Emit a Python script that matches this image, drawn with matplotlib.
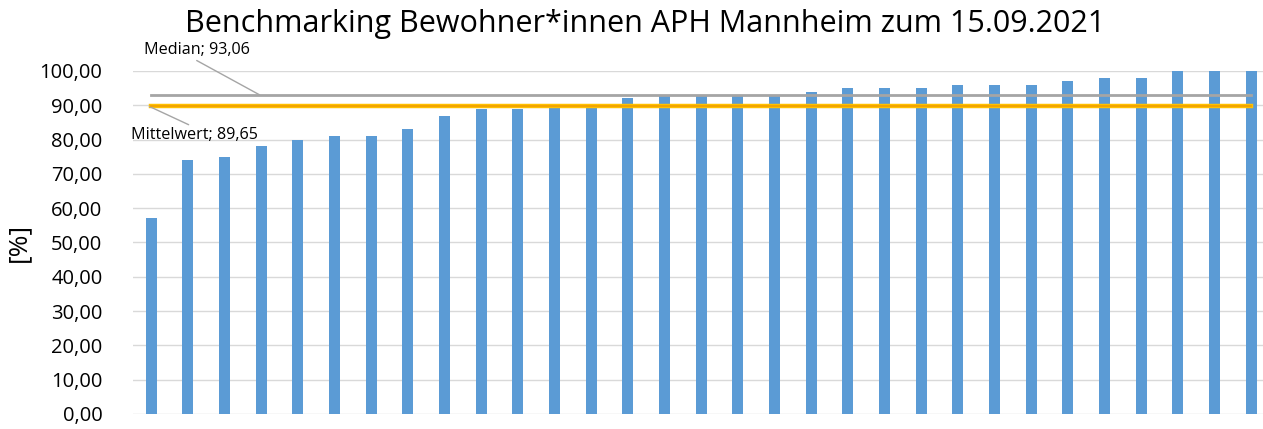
import numpy as np
import matplotlib.pyplot as plt

# values (sorted ascending)
werte = [57, 74, 75, 78, 80, 81, 81, 83, 87, 89, 89, 90, 90, 92, 93, 93,
         93, 93, 94, 95, 95, 95, 96, 96, 96, 97, 98, 98, 100, 100, 100]
median_wert = 93.06
mittelwert = 89.65
y_ticks = np.arange(0, 101, 10)

plt.rcParams['font.family'] = ['Open Sans', 'DejaVu Sans']

fig = plt.figure(figsize=(12.63, 4.29), dpi=100)
ax = fig.add_axes([0.1053, 0.035, 0.8999, 0.7995])

x = np.arange(len(werte))
ax.bar(x, werte, width=0.3, color='#5B9BD5', zorder=2)
ax.plot(x, [median_wert] * len(x), color='#A5A5A5', lw=2, zorder=3)
ax.plot(x, [mittelwert] * len(x), color='#FFC000', lw=3.2, zorder=3)
ax.plot(x, [mittelwert] * len(x), color='#F0A000', lw=1.2, zorder=4)

ax.set_xlim(-0.5, len(werte) - 0.5)
ax.set_ylim(0, 100)
ax.set_yticks(y_ticks)
ax.set_yticklabels([f'{v:.2f}'.replace('.', ',') for v in y_ticks], fontsize=14.5)
ax.tick_params(axis='y', length=0, pad=22)
ax.set_xticks([])
ax.grid(axis='y', color='#D9D9D9', lw=1, zorder=0)
for s in ax.spines.values():
    s.set_visible(False)

ax.set_ylabel('[%]', fontsize=19, labelpad=6)

# data labels with leader lines
ax.annotate('Median; 93,06', xy=(2.95, median_wert), xytext=(-0.2, 106.2),
            fontsize=11.6, ha='left', va='center', annotation_clip=False,
            arrowprops=dict(arrowstyle='-', color='#A5A5A5', lw=1,
                            shrinkA=0, shrinkB=0, relpos=(0.45, 0)))
ax.annotate('Mittelwert; 89,65', xy=(-0.05, mittelwert), xytext=(-0.55, 81.2),
            fontsize=11.6, ha='left', va='center', annotation_clip=False,
            arrowprops=dict(arrowstyle='-', color='#A5A5A5', lw=1,
                            shrinkA=0, shrinkB=0, relpos=(0.5, 1)))

fig.text(0.511, 0.945, 'Benchmarking Bewohner*innen APH Mannheim zum 15.09.2021',
         fontsize=22, ha='center', va='center')

fig.savefig('out.png', dpi=100)
